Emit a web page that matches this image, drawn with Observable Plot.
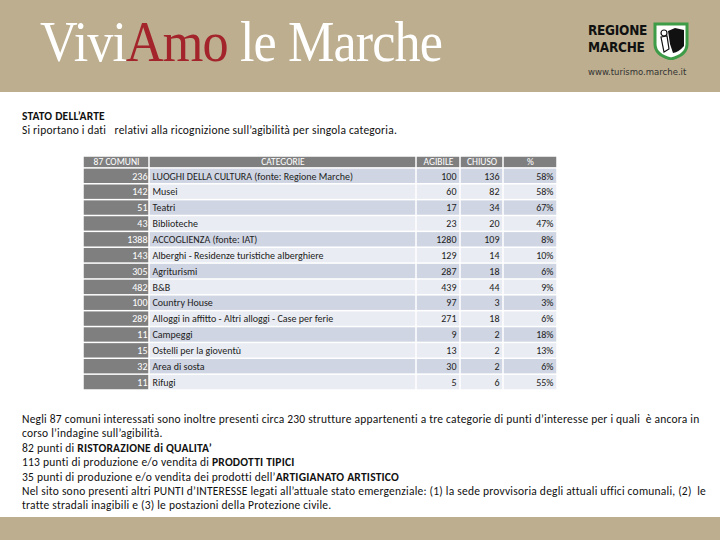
<!DOCTYPE html>
<html>
<head>
<meta charset="utf-8">
<script src="https://cdn.jsdelivr.net/npm/d3@7"></script>
<script src="https://cdn.jsdelivr.net/npm/@observablehq/plot@0.6"></script>
<style>
  html, body { margin: 0; padding: 0; background: #fff; }
  #page { position: relative; width: 720px; height: 540px; overflow: hidden; background: #fff;
          font-family: Carlito, Lato, "Noto Sans", sans-serif; color: #111; }
  #band { position: absolute; left: 0; top: 0; width: 720px; height: 92px; background: #bcae8e; }
  #footer { position: absolute; left: 0; top: 517px; width: 720px; height: 23px; background: #bcae8e; }
  #brand { position: absolute; left: 40px; top: 8px; font-family: "Liberation Serif", "DejaVu Serif", serif;
           font-size: 58px; color: #fff; white-space: nowrap; transform: scaleX(0.9); transform-origin: left top;
           letter-spacing: -1px; }
  #brand .red { color: #a3242a; }
  .logoLine { position: absolute; left: 588px; font-family: "DejaVu Sans", sans-serif; font-weight: 900;
              font-size: 13.5px; line-height: 14px; color: #111; transform: scaleX(0.9);
              transform-origin: left top; letter-spacing: -0.3px; white-space: nowrap; }
  #shield { position: absolute; left: 653px; top: 22px; }
  #url { position: absolute; left: 588px; top: 67px; font-size: 8.5px; color: #333; font-family: "DejaVu Sans", sans-serif;
         white-space: nowrap; }
  #title { position: absolute; left: 22px; top: 109px; font-size: 11.5px; line-height: 14px; white-space: nowrap; letter-spacing: 0.2px; }
  #table { position: absolute; left: 0; top: 150px; }
  #notes { position: absolute; left: 22px; top: 412px; width: 690px; font-size: 11.5px; line-height: 14.4px; letter-spacing: 0.22px; }
  #notes div { white-space: nowrap; }
</style>
</head>
<body>
<div id="page">
  <div id="band"></div>
  <div id="brand">Vivi<span class="red">Amo</span> le Marche</div>
  <div class="logoLine" style="top:23px">REGIONE</div>
  <div class="logoLine" style="top:40px">MARCHE</div>
  <svg id="shield" width="36" height="38" viewBox="0 0 36 38">
    <path d="M2,2 H34 V22 Q34,33 18,37 Q2,33 2,22 Z" fill="#fff" stroke="#3e9b47" stroke-width="3"/>
    <path d="M15,9 L22,6 L31,8 L31,24 Q26,30 20,31 L17,22 Z" fill="#111"/>
    <circle cx="11" cy="11" r="3" fill="#fff" stroke="#111" stroke-width="1.2"/>
    <path d="M8,15 L14,14 L16,27 L11,30 Z" fill="#fff" stroke="#111" stroke-width="1.2"/>
  </svg>
  <div id="url">www.turismo.marche.it</div>

  <div id="title"><b>STATO DELL’ARTE</b><br>Si riportano i dati &nbsp; relativi alla ricognizione sull’agibilità per singola categoria.</div>

  <div id="table"></div>

  <div id="notes">
    <div>Negli 87 comuni interessati sono inoltre presenti circa 230 strutture appartenenti a tre categorie di punti d’interesse per i quali &nbsp;è ancora in</div>
    <div>corso l’indagine sull’agibilità.</div>
    <div>82 punti di <b>RISTORAZIONE di QUALITA’</b></div>
    <div>113 punti di produzione e/o vendita di <b>PRODOTTI TIPICI</b></div>
    <div>35 punti di produzione e/o vendita dei prodotti dell’<b>ARTIGIANATO ARTISTICO</b></div>
    <div>Nel sito sono presenti altri PUNTI d’INTERESSE legati all’attuale stato emergenziale: (1) la sede provvisoria degli attuali uffici comunali, (2) &nbsp;le</div>
    <div>tratte stradali inagibili e (3) le postazioni della Protezione civile.</div>
  </div>
  <div id="footer"></div>
</div>

<script>
// ---- data ----
const headers = ["87 COMUNI", "CATEGORIE", "AGIBILE", "CHIUSO", "%"];
const comuni = [236, 142, 51, 43, 1388, 143, 305, 482, 100, 289, 11, 15, 32, 11];
const categorie = [
  "LUOGHI DELLA CULTURA (fonte: Regione Marche)",
  "Musei",
  "Teatri",
  "Biblioteche",
  "ACCOGLIENZA (fonte: IAT)",
  "Alberghi - Residenze turistiche alberghiere",
  "Agriturismi",
  "B&B",
  "Country House",
  "Alloggi in affitto - Altri alloggi - Case per ferie",
  "Campeggi",
  "Ostelli per la gioventù",
  "Area di sosta",
  "Rifugi"
];
const agibile = [100, 60, 17, 23, 1280, 129, 287, 439, 97, 271, 9, 13, 30, 5];
const chiuso = [136, 82, 34, 20, 109, 14, 18, 44, 3, 18, 2, 2, 2, 6];
const percentuale = ["58%", "58%", "67%", "47%", "8%", "10%", "6%", "9%", "3%", "6%", "18%", "13%", "6%", "55%"];

// ---- layout (column widths in table units, alignment) ----
const colWidths = [66, 267, 44, 43, 54];
const colAlign = ["end", "start", "end", "end", "end"];
const headerHeight = 0.75; // in row units

const colStart = colWidths.map((w, i) => d3.sum(colWidths.slice(0, i)));
const totalW = d3.sum(colWidths);
const nRows = categorie.length;

const cells = [];
headers.forEach((h, c) => {
  cells.push({row: -1, col: c, y1: 0, y2: headerHeight, text: h, kind: "header"});
});
for (let r = 0; r < nRows; r++) {
  const vals = [comuni[r], categorie[r], agibile[r], chiuso[r], percentuale[r]];
  vals.forEach((v, c) => {
    cells.push({row: r, col: c, y1: headerHeight + r, y2: headerHeight + r + 1, text: String(v),
                kind: c === 0 ? "first" : (r % 2 === 0 ? "dark" : "light")});
  });
}
cells.forEach(d => {
  d.x1 = colStart[d.col];
  d.x2 = colStart[d.col] + colWidths[d.col];
  d.ym = (d.y1 + d.y2) / 2;
  d.anchor = d.kind === "header" ? "middle" : colAlign[d.col];
  d.tx = d.anchor === "middle" ? (d.x1 + d.x2) / 2 : d.anchor === "end" ? d.x2 : d.x1;
});

const fills = {header: "#7f7f7f", first: "#7f7f7f", dark: "#cfd5e2", light: "#e9ecf2"};
const font = 'Carlito, Lato, "Noto Sans", sans-serif';
const body = cells.filter(d => d.kind === "dark" || d.kind === "light");

const chart = Plot.plot({
  width: 720,
  height: 240,
  marginLeft: 83,
  marginRight: 163,
  marginTop: 6,
  marginBottom: 0,
  x: {domain: [0, totalW], axis: null},
  y: {domain: [0, headerHeight + nRows], range: [6, 240], axis: null},
  marks: [
    Plot.rect(cells, {x1: "x1", x2: "x2", y1: "y1", y2: "y2", fill: d => fills[d.kind],
      insetTop: 0.75, insetBottom: 0.75, insetLeft: 0.75, insetRight: 0.75}),
    Plot.text(cells.filter(d => d.kind === "header"), {x: "tx", y: "ym", text: "text", textAnchor: "middle",
      fill: "#fff", fontSize: 9.5, fontFamily: font, letterSpacing: "0.8px"}),
    Plot.text(cells.filter(d => d.kind === "first"), {x: "tx", y: "ym", text: "text", textAnchor: "end", dx: -2,
      fill: "#fff", fontSize: 10, fontFamily: font}),
    Plot.text(body.filter(d => d.anchor === "start"), {x: "tx", y: "ym", text: "text",
      textAnchor: "start", dx: 3, fill: "#222", fontSize: 10, fontFamily: font}),
    Plot.text(body.filter(d => d.anchor === "end"), {x: "tx", y: "ym", text: "text",
      textAnchor: "end", dx: -4, fill: "#222", fontSize: 10, fontFamily: font})
  ]
});
document.getElementById("table").appendChild(chart);
</script>
</body>
</html>
